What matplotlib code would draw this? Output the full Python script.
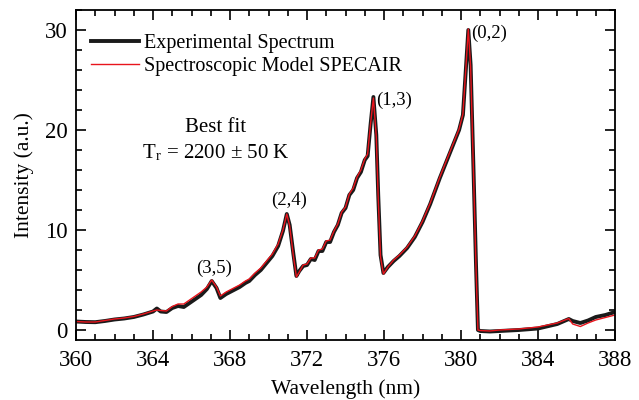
import matplotlib
matplotlib.use("Agg")
import matplotlib.pyplot as plt
from matplotlib.ticker import MultipleLocator

plt.rcParams['font.family'] = ['Liberation Serif', 'DejaVu Serif']
plt.rcParams['mathtext.fontset'] = 'stix'

wavelength = [360.0, 360.5, 361.0, 361.5, 362.0, 362.5, 363.0, 363.5, 364.0, 364.2,
              364.4, 364.7, 365.0, 365.3, 365.6, 365.9, 366.2, 366.5, 366.8, 367.05,
              367.3, 367.5, 367.8, 368.0, 368.3, 368.5, 368.8, 369.0, 369.3, 369.6,
              369.9, 370.2, 370.5, 370.75, 370.95, 371.1, 371.3, 371.45, 371.6, 371.8,
              372.0, 372.2, 372.4, 372.6, 372.8, 373.0, 373.2, 373.4, 373.6, 373.8,
              374.0, 374.2, 374.4, 374.6, 374.8, 375.0, 375.15, 375.3, 375.45, 375.6,
              375.7, 375.82, 375.97, 376.2, 376.5, 376.8, 377.2, 377.6, 378.0, 378.4,
              378.9, 379.4, 379.9, 380.1, 380.25, 380.38, 380.5, 380.65, 380.78, 380.88,
              381.0, 381.5, 382.0, 383.0, 384.0, 385.0, 385.6, 385.8, 386.2, 386.6,
              387.0, 387.5, 388.0]

experimental = [0.85, 0.8, 0.78, 0.9, 1.05, 1.15, 1.3, 1.55, 1.85, 2.15,
                1.85, 1.8, 2.2, 2.4, 2.3, 2.7, 3.1, 3.5, 4.1, 4.9,
                4.2, 3.2, 3.6, 3.8, 4.1, 4.3, 4.7, 4.9, 5.5, 6.0,
                6.7, 7.4, 8.4, 9.9, 11.6, 10.5, 7.5, 5.4, 5.9, 6.4,
                6.5, 7.1, 7.0, 7.9, 7.9, 8.8, 8.8, 9.8, 10.5, 11.7,
                12.2, 13.5, 14.0, 15.2, 15.8, 17.0, 17.4, 20.5, 23.3, 19.5,
                13.5, 7.5, 5.7, 6.3, 6.9, 7.4, 8.2, 9.3, 10.8, 12.6,
                15.2, 17.6, 20.0, 21.5, 26.0, 30.0, 26.5, 16.0, 6.5, 0.0,
                -0.1, -0.15, -0.1, 0.0, 0.15, 0.6, 1.1, 0.9, 0.7, 0.95,
                1.3, 1.5, 1.8]

model = [0.85, 0.8, 0.8, 0.95, 1.1, 1.2, 1.35, 1.6, 1.9, 2.0,
         1.95, 1.9, 2.35, 2.6, 2.6, 3.0, 3.4, 3.8, 4.3, 5.0,
         4.3, 3.4, 3.8, 4.0, 4.3, 4.5, 4.9, 5.1, 5.7, 6.2,
         6.9, 7.6, 8.6, 10.0, 11.6, 10.4, 7.3, 5.3, 5.8, 6.5,
         6.6, 7.2, 7.2, 8.0, 8.1, 8.9, 9.0, 9.9, 10.6, 11.8,
         12.3, 13.6, 14.2, 15.3, 16.0, 17.1, 17.6, 20.6, 23.2, 19.3,
         13.2, 7.3, 5.6, 6.3, 7.0, 7.5, 8.3, 9.4, 10.9, 12.7,
         15.3, 17.7, 20.1, 21.6, 26.1, 30.1, 26.3, 15.7, 6.2, 0.0,
         -0.05, -0.1, 0.0, 0.1, 0.3, 0.7, 1.15, 0.6, 0.35, 0.7,
         1.0, 1.25, 1.5]

x_ticks = [360, 364, 368, 372, 376, 380, 384, 388]
y_ticks = [0, 10, 20, 30]

fig = plt.figure(figsize=(6.39, 4.0), dpi=100)
ax = fig.add_axes([76/639, 60/400, 539/639, 330/400])

ax.plot(wavelength, experimental, color='#1a1a1a', lw=2.8, label='Experimental Spectrum',
        solid_joinstyle='round')
ax.plot(wavelength, model, color='#e8141c', lw=1.0, label='Spectroscopic Model SPECAIR')

ax.set_xlim(360, 388)
ax.set_ylim(-1, 32)
ax.set_xticks(x_ticks)
ax.set_yticks(y_ticks)
ax.xaxis.set_minor_locator(MultipleLocator(1))
ax.yaxis.set_minor_locator(MultipleLocator(2))
ax.tick_params(which='both', direction='in', top=True, right=True, width=1.2, labelsize=16.5)
ax.tick_params(which='major', length=7)
ax.tick_params(which='minor', length=4)
ax.tick_params(axis='x', which='major', pad=7)
ax.tick_params(axis='y', which='major', pad=6)
for s in ax.spines.values():
    s.set_linewidth(1.3)

ax.set_xlabel('Wavelength (nm)', fontsize=15.5, labelpad=6)
ax.set_ylabel('Intensity (a.u.)', fontsize=15.5, labelpad=8)

leg = ax.legend(loc='upper left', frameon=False, fontsize=14.5, handlelength=2.4,
                handletextpad=0.25, labelspacing=0.22, borderaxespad=0.0,
                bbox_to_anchor=(0.012, 0.953))

ax.text(367.25, 20.3, 'Best fit', fontsize=15, ha='center', va='center')
ax.text(367.25, 17.7, r'T$_\mathregular{r}$ = 2200 ± 50 K', fontsize=15, ha='center', va='center')

ax.text(380.55, 29.7, '(0,2)', fontsize=13.5, ha='left', va='center')
ax.text(375.6, 23.0, '(1,3)', fontsize=13.5, ha='left', va='center')
ax.text(371.05, 13.0, '(2,4)', fontsize=13.5, ha='center', va='center')
ax.text(367.15, 6.2, '(3,5)', fontsize=13.5, ha='center', va='center')

fig.savefig('out.png', dpi=100)
